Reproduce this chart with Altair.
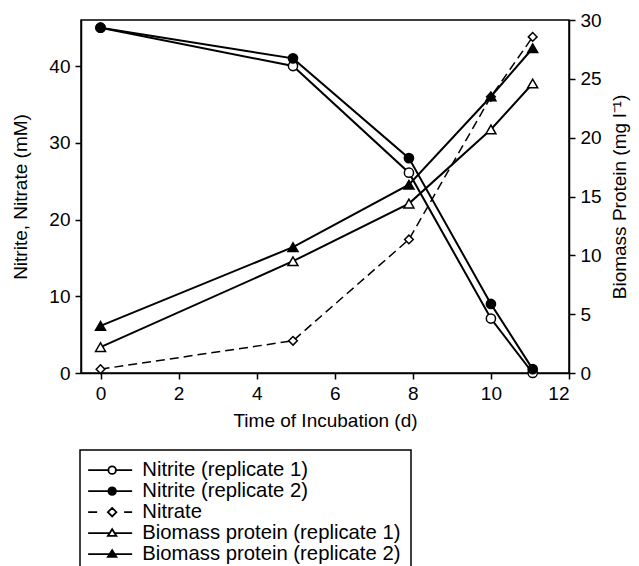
import altair as alt
import pandas as pd

# ---- data ----
days = [0.0, 4.93, 7.9, 10.0, 11.07]
nitrite_rep1 = [45.0, 40.0, 26.1, 7.1, 0.0]
nitrite_rep2 = [45.0, 41.0, 28.0, 9.0, 0.5]
nitrate = [0.5, 4.2, 17.4, 36.0, 43.8]
biomass_rep1 = [2.2, 9.5, 14.4, 20.7, 24.6]
biomass_rep2 = [4.0, 10.7, 16.0, 23.5, 27.6]

series_names = [
    "Nitrite (replicate 1)",
    "Nitrite (replicate 2)",
    "Nitrate",
    "Biomass protein (replicate 1)",
    "Biomass protein (replicate 2)",
]
x_ticks = [0, 2, 4, 6, 8, 10, 12]
left_ticks = [0, 10, 20, 30, 40]
right_ticks = [0, 5, 10, 15, 20, 25, 30]

rows = []
for name, vals in zip(series_names, [nitrite_rep1, nitrite_rep2, nitrate, biomass_rep1, biomass_rep2]):
    for d, v in zip(days, vals):
        rows.append({"series": name, "day": d, "value": v})
df = pd.DataFrame(rows)

FONT = "Liberation Sans"

# ---- legend symbol paths (line + marker), units scaled by sqrt(size)/2 ----
def circ(cx, r):
    k = 0.5523 * r
    return (f"M{cx-r},0C{cx-r},{-k} {cx-k},{-r} {cx},{-r}"
            f"C{cx+k},{-r} {cx+r},{-k} {cx+r},0"
            f"C{cx+r},{k} {cx+k},{r} {cx},{r}"
            f"C{cx-k},{r} {cx-r},{k} {cx-r},0Z")

cx = 2.4
x0, x1 = -2.4, 6.4
p_circle = f"M{x0},0L{cx-0.75},0M{cx+0.75},0L{x1},0" + circ(cx, 0.75)
p_diamond = (f"M{x0},0L{x0+1.8},0M{x1-1.6},0L{x1},0"
             f"M{cx-0.85},0L{cx},-0.85L{cx+0.85},0L{cx},0.85Z")
p_tri = (f"M{x0},0L{cx-0.5},0M{cx+0.5},0L{x1},0"
         f"M{cx-0.85},0.55L{cx+0.85},0.55L{cx},-0.8Z")
legend_paths = [p_circle, p_circle, p_diamond, p_tri, p_tri]
fill_colors = ["white", "black", "white", "white", "black"]
stroke_colors = ["black"] * 5

legend = alt.Legend(
    title=None, orient="none", legendX=-1, legendY=430,
    strokeColor="black", fillColor="white", padding=10,
    labelFont=FONT, labelFontSize=20.3, labelColor="black", labelLimit=500,
    symbolSize=100, labelOffset=32, rowPadding=0,
    symbolStrokeWidth=1.8, symbolOpacity=1,
)

x = alt.X("day:Q", scale=alt.Scale(domain=[-0.5, 12], nice=False, zero=False),
          axis=alt.Axis(values=x_ticks, title="Time of Incubation (d)",
                        labelPadding=5, titlePadding=8))

y_left = alt.Y("value:Q", scale=alt.Scale(domain=[0, 46], nice=False),
               axis=alt.Axis(orient="left", values=left_ticks, title="Nitrite, Nitrate (mM)",
                             labelPadding=5, titlePadding=18))
y_right = alt.Y("value:Q", scale=alt.Scale(domain=[0, 30], nice=False),
                axis=alt.Axis(orient="right", values=right_ticks, title="Biomass Protein (mg l⁻¹)",
                              titleAngle=270, titleBaseline="top",
                              labelPadding=5, titlePadding=9))

base = alt.Chart(df)


def only(names):
    return base.transform_filter(alt.FieldOneOfPredicate(field="series", oneOf=names))


def pts(names, shape, size, fillc, y):
    return (only(names)
            .mark_point(filled=True, fill=fillc, stroke="black", strokeWidth=1.5, opacity=1,
                        shape=shape, size=size)
            .encode(x=x, y=y))


left = alt.layer(
    only(series_names[:2]).mark_line(color="black", strokeWidth=2)
        .encode(x=x, y=y_left, detail="series:N"),
    only(["Nitrate"]).mark_line(color="black", strokeWidth=1.5, strokeDash=[9, 5])
        .encode(x=x, y=y_left),
    pts([series_names[0]], "circle", 85, "white", y_left),
    pts([series_names[1]], "circle", 85, "black", y_left),
    pts([series_names[2]], "diamond", 75, "white", y_left),
    # legend-only layer (no rows drawn)
    base.transform_filter("false")
        .mark_point(filled=True, strokeWidth=1.8, opacity=1)
        .encode(
            x=x, y=y_left,
            fill=alt.Fill("series:N", scale=alt.Scale(domain=series_names, range=fill_colors),
                          legend=legend),
            shape=alt.Shape("series:N", scale=alt.Scale(domain=series_names, range=legend_paths),
                            legend=legend),
            stroke=alt.Stroke("series:N", scale=alt.Scale(domain=series_names, range=stroke_colors),
                              legend=legend),
        ),
)

right = alt.layer(
    only(series_names[3:]).mark_line(color="black", strokeWidth=2)
        .encode(x=x, y=y_right, detail="series:N"),
    pts([series_names[3]], "triangle-up", 100, "white", y_right),
    pts([series_names[4]], "triangle-up", 100, "black", y_right),
)

chart = (
    alt.layer(left, right)
    .resolve_scale(y="independent")
    .properties(
        width=488, height=353,
        autosize=alt.AutoSizeParams(type="none"),
        padding={"left": 73, "top": 12, "right": 62, "bottom": 193},
    )
    .configure(font=FONT)
    .configure_axis(
        labelFont=FONT, titleFont=FONT, labelFontSize=19, titleFontSize=19,
        titleFontWeight="normal", labelColor="black", titleColor="black",
        domainColor="black", tickColor="black", domainWidth=1.5, tickWidth=1.5,
        tickSize=6, grid=False,
    )
    .configure_view(stroke="black", strokeWidth=1.5)
    .configure_legend(strokeWidth=1.5)
)

chart.save("out.html", embed_options={"renderer": "svg", "actions": False})
